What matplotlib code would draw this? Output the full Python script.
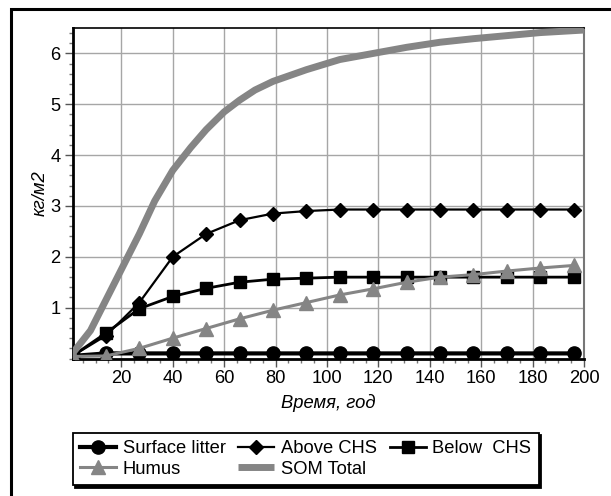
import matplotlib
matplotlib.use("Agg")
import matplotlib.pyplot as plt
from matplotlib.patches import Rectangle
from matplotlib.ticker import MultipleLocator, FixedLocator

plt.rcParams['font.family'] = ['Liberation Sans', 'DejaVu Sans']

# ---- data ----
years = [1, 14, 27, 40, 53, 66, 79, 92, 105, 118, 131, 144, 157, 170, 183, 196]
surface_litter = [0.05, 0.10, 0.10, 0.10, 0.10, 0.10, 0.10, 0.10, 0.10, 0.10, 0.10, 0.10, 0.10, 0.10, 0.10, 0.10]
above_chs = [0.05, 0.45, 1.10, 2.00, 2.45, 2.72, 2.85, 2.90, 2.93, 2.93, 2.93, 2.93, 2.93, 2.93, 2.93, 2.93]
below_chs = [0.05, 0.50, 0.98, 1.22, 1.38, 1.50, 1.56, 1.58, 1.60, 1.60, 1.60, 1.60, 1.60, 1.60, 1.60, 1.60]
humus = [0.04, 0.05, 0.20, 0.40, 0.59, 0.78, 0.95, 1.10, 1.25, 1.37, 1.50, 1.60, 1.65, 1.72, 1.78, 1.83]
som_years = [1, 8, 14, 20, 27, 33, 40, 47, 53, 60, 66, 72, 79, 92, 105, 118, 131, 144, 157, 170, 183, 200]
som_total = [0.10, 0.55, 1.15, 1.75, 2.45, 3.10, 3.70, 4.15, 4.50, 4.85, 5.08, 5.28, 5.45, 5.68, 5.88, 6.00,
             6.12, 6.22, 6.29, 6.35, 6.41, 6.46]

x_ticks = [20, 40, 60, 80, 100, 120, 140, 160, 180, 200]
y_ticks = [1, 2, 3, 4, 5, 6]

W, H = 611, 496
FS = 13.2
fig = plt.figure(figsize=(W / 100, H / 100), dpi=100)

# outer frame (extends past right/bottom edges)
fig.patches.append(Rectangle((11 / W, -0.05), 1.2, 1 - 9 / H + 0.05, transform=fig.transFigure,
                             fill=False, edgecolor='black', linewidth=2.2, zorder=0))

ax = fig.add_axes([72.5 / W, 1 - 358.5 / H, (584 - 72.5) / W, (358.5 - 28) / H])

gray = '#858585'
ax.plot(years, surface_litter, color='black', lw=3, marker='o', ms=9.5, label='Surface litter', zorder=3)
ax.plot(years, above_chs, color='black', lw=1.6, marker='D', ms=7.5, label='Above CHS', zorder=3)
ax.plot(years, below_chs, color='black', lw=2, marker='s', ms=8, label='Below  CHS', zorder=3)
ax.plot(years, humus, color=gray, lw=2.2, marker='^', ms=10.5, label='Humus', zorder=4)
ax.plot(som_years, som_total, color=gray, lw=5, label='SOM Total', zorder=5, solid_capstyle='butt')

ax.set_xlim(1, 200)
ax.set_ylim(0, 6.5)
ax.xaxis.set_major_locator(FixedLocator(x_ticks))
ax.xaxis.set_minor_locator(MultipleLocator(5))
ax.yaxis.set_major_locator(FixedLocator(y_ticks))
ax.yaxis.set_minor_locator(MultipleLocator(0.2))
ax.grid(True, which='major', color='#a6a6a6', lw=1, zorder=1)
ax.set_axisbelow(True)

ax.tick_params(axis='both', which='major', direction='out', length=6, width=1, color='#555555',
               labelsize=FS, pad=2.5)
ax.tick_params(axis='both', which='minor', direction='out', length=3, width=1, color='#777777')

for s in ['left', 'bottom']:
    ax.spines[s].set_linewidth(2)
    ax.spines[s].set_color('black')
ax.spines['top'].set_linewidth(1.2)
ax.spines['top'].set_color('black')
ax.spines['right'].set_linewidth(1.5)
ax.spines['right'].set_color('#777777')

ax.set_xlabel('Время, год', fontsize=FS, style='italic', labelpad=5)
ax.set_ylabel('кг/м2', fontsize=FS, style='italic', labelpad=1)

handles, labels = ax.get_legend_handles_labels()
order = [0, 3, 1, 4, 2]
leg = fig.legend([handles[i] for i in order], [labels[i] for i in order],
                 loc='upper left', bbox_to_anchor=(72.7 / W, 1 - 432.7 / H),
                 ncol=3, fontsize=FS, frameon=True, fancybox=False,
                 edgecolor='black', handlelength=1.95, handletextpad=0.37, columnspacing=0.7,
                 labelspacing=0.2, borderpad=0.4, borderaxespad=0.0,
                 shadow={'color': 'black', 'alpha': 1})
leg.get_frame().set_linewidth(1.3)

fig.savefig('out.png', dpi=100)
